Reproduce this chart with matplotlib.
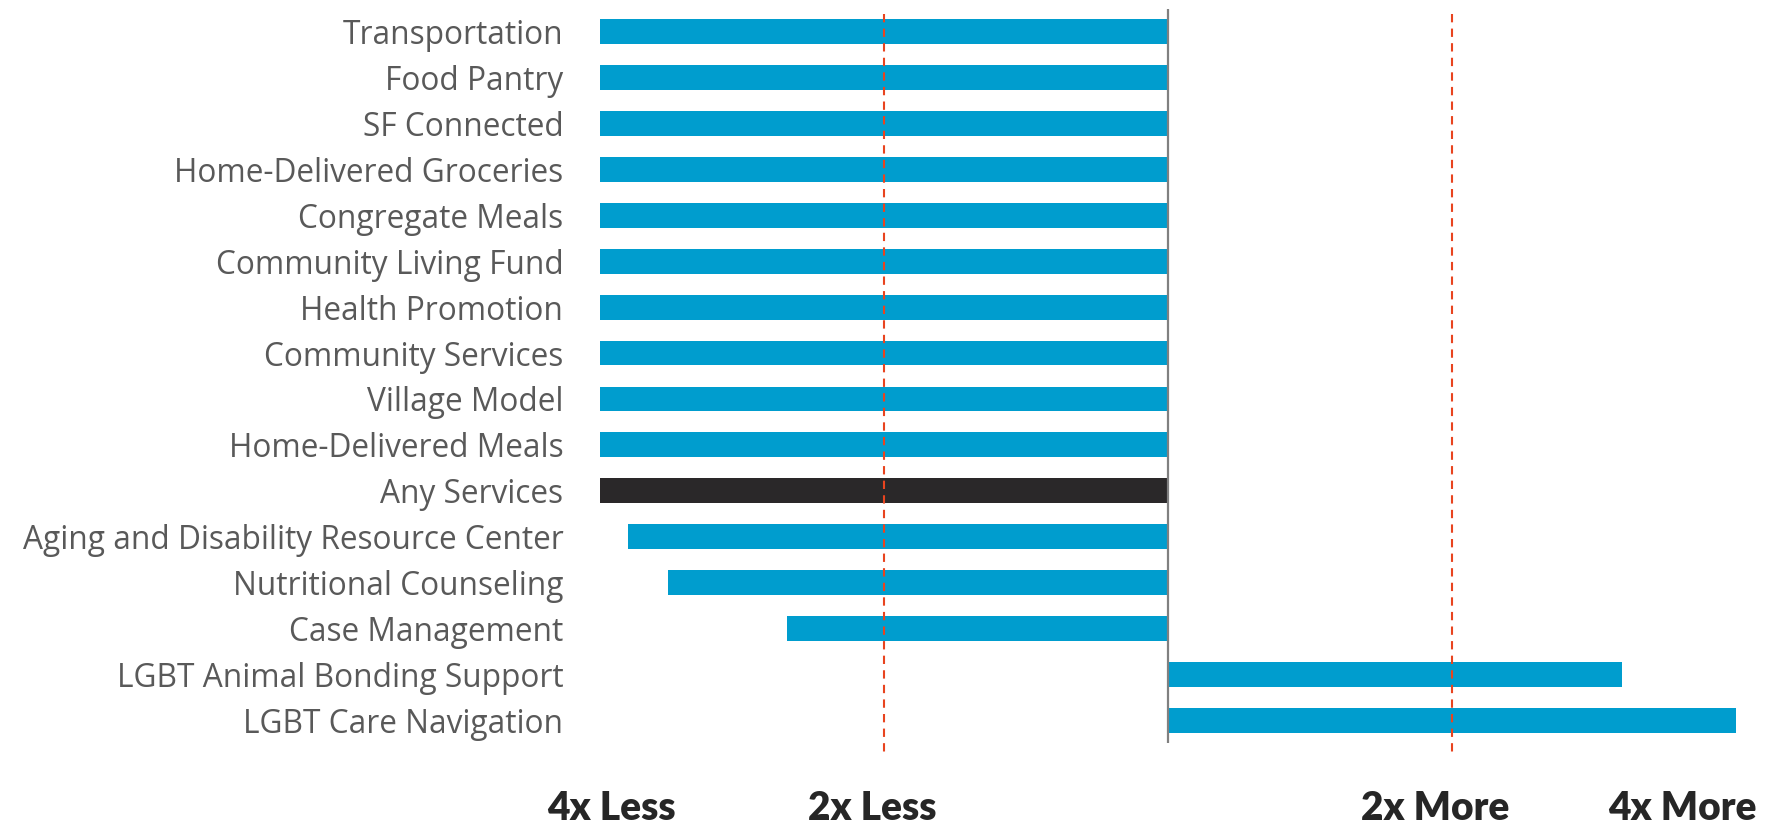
import numpy as np
import matplotlib
matplotlib.use("Agg")
import matplotlib.pyplot as plt
from matplotlib.transforms import blended_transform_factory

categories = [
    "Transportation", "Food Pantry", "SF Connected", "Home-Delivered Groceries",
    "Congregate Meals", "Community Living Fund", "Health Promotion",
    "Community Services", "Village Model", "Home-Delivered Meals", "Any Services",
    "Aging and Disability Resource Center", "Nutritional Counseling",
    "Case Management", "LGBT Animal Bonding Support", "LGBT Care Navigation",
]
# log2 ratio (negative = less, positive = more)
values = [-2.0, -2.0, -2.0, -2.0, -2.0, -2.0, -2.0, -2.0, -2.0, -2.0, -2.0,
          -1.90, -1.76, -1.34, 1.60, 2.0]
highlight = "Any Services"
ref_lines = [-1, 1]
bottom_labels = ["4x Less", "2x Less", "2x More", "4x More"]
bottom_label_x = [-1.96, -1.04, 0.94, 1.81]

W, H = 1773, 824
fig = plt.figure(figsize=(W / 100, H / 100), dpi=100)
ax = fig.add_axes([571.6 / W, 1 - 761.5 / H, 1192.8 / W, (761.5 - 4.2) / H])

blue = "#009dce"
dark = "#2a2829"
colors = [dark if c == highlight else blue for c in categories]
y = np.arange(len(categories))
ax.barh(y, values, height=0.54, color=colors, zorder=2)

for xv in ref_lines:
    ax.vlines(xv, -0.39, 15.76, colors="#e8441f", linestyles=(0, (4, 3)),
              linewidth=1.5, zorder=3)
ax.vlines(0, -0.49, 15.5, colors="#808080", linewidth=1.6, zorder=4)

ax.set_xlim(-2.1, 2.1)
ax.set_ylim(15.9, -0.6)
ax.set_yticks(y)
ax.set_yticklabels(categories, fontsize=22.8, color="#595959", family="Open Sans")
ax.tick_params(axis="y", length=0, pad=6)
ax.set_xticks([])
for s in ax.spines.values():
    s.set_visible(False)

tr = blended_transform_factory(ax.transData, fig.transFigure)
for lab, xv in zip(bottom_labels, bottom_label_x):
    ax.text(xv, 1 - 808 / H, lab, transform=tr, ha="center", va="center",
            fontsize=28, fontweight="heavy", color="#262626", family="Lato")

fig.savefig("out.png", dpi=100)
